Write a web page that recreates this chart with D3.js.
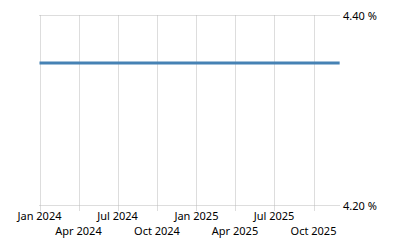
<!DOCTYPE html>
<html>
<head>
<meta charset="utf-8">
<script src="https://cdn.jsdelivr.net/npm/d3@7"></script>
<style>
  body { margin: 0; background: #fff; }
  svg { display: block; font-family: "Noto Sans", sans-serif; }
</style>
</head>
<body>
<svg id="chart" width="400" height="250"></svg>
<script>
const months = [
  "2024-01", "2024-02", "2024-03", "2024-04", "2024-05", "2024-06",
  "2024-07", "2024-08", "2024-09", "2024-10", "2024-11", "2024-12",
  "2025-01", "2025-02", "2025-03", "2025-04", "2025-05", "2025-06",
  "2025-07", "2025-08", "2025-09", "2025-10", "2025-11", "2025-12",
];
const rates = [
  4.35, 4.35, 4.35, 4.35, 4.35, 4.35,
  4.35, 4.35, 4.35, 4.35, 4.35, 4.35,
  4.35, 4.35, 4.35, 4.35, 4.35, 4.35,
  4.35, 4.35, 4.35, 4.35, 4.35, 4.35,
];
const xTicks = ["2024-01", "2024-04", "2024-07", "2024-10", "2025-01", "2025-04", "2025-07", "2025-10"];
const yTicks = [4.2, 4.4];

const parse = d3.timeParse("%Y-%m");
const data = months.map((m, i) => ({ date: parse(m), value: rates[i] }));

const svg = d3.select("#chart");
const plotLeft = 39.5, plotRight = 340, plotTop = 15.5, plotBottom = 205.5;

const x = d3.scaleTime()
  .domain([parse("2024-01"), parse("2025-10")])
  .range([plotLeft, 313.5]);
const y = d3.scaleLinear().domain([4.2, 4.4]).range([plotBottom, plotTop]);

// vertical grid lines
svg.append("g")
  .selectAll("line")
  .data(xTicks.map(parse))
  .enter()
  .append("line")
  .attr("x1", (d) => Math.round(x(d)) + 0.5)
  .attr("x2", (d) => Math.round(x(d)) + 0.5)
  .attr("y1", plotTop)
  .attr("y2", plotBottom + 5)
  .attr("stroke", "#bbb")
  .attr("stroke-dasharray", "1,1");

// horizontal grid lines
svg.append("g")
  .selectAll("line")
  .data(yTicks)
  .enter()
  .append("line")
  .attr("x1", plotLeft)
  .attr("x2", plotRight)
  .attr("y1", (d) => y(d))
  .attr("y2", (d) => y(d))
  .attr("stroke", "#bbb")
  .attr("stroke-dasharray", "1,1");

// y labels on the right
svg.append("g")
  .selectAll("text")
  .data(yTicks)
  .enter()
  .append("text")
  .attr("x", 343)
  .attr("y", (d) => y(d) + 4)
  .attr("font-size", 11)
  .attr("fill", "#000")
  .text((d) => d.toFixed(2) + " %");

// x labels, staggered in two rows
const fmt = d3.timeFormat("%b %Y");
svg.append("g")
  .selectAll("text")
  .data(xTicks.map(parse))
  .enter()
  .append("text")
  .attr("x", (d) => x(d))
  .attr("y", (d, i) => (i % 2 === 0 ? 220 : 235))
  .attr("text-anchor", "middle")
  .attr("font-size", 11)
  .attr("fill", "#000")
  .text((d) => fmt(d));

// the series line
const line = d3.line()
  .x((d) => x(d.date))
  .y((d) => y(d.value));

svg.append("path")
  .datum(data)
  .attr("d", line)
  .attr("fill", "none")
  .attr("stroke", "#4682b4")
  .attr("stroke-width", 3);
</script>
</body>
</html>
